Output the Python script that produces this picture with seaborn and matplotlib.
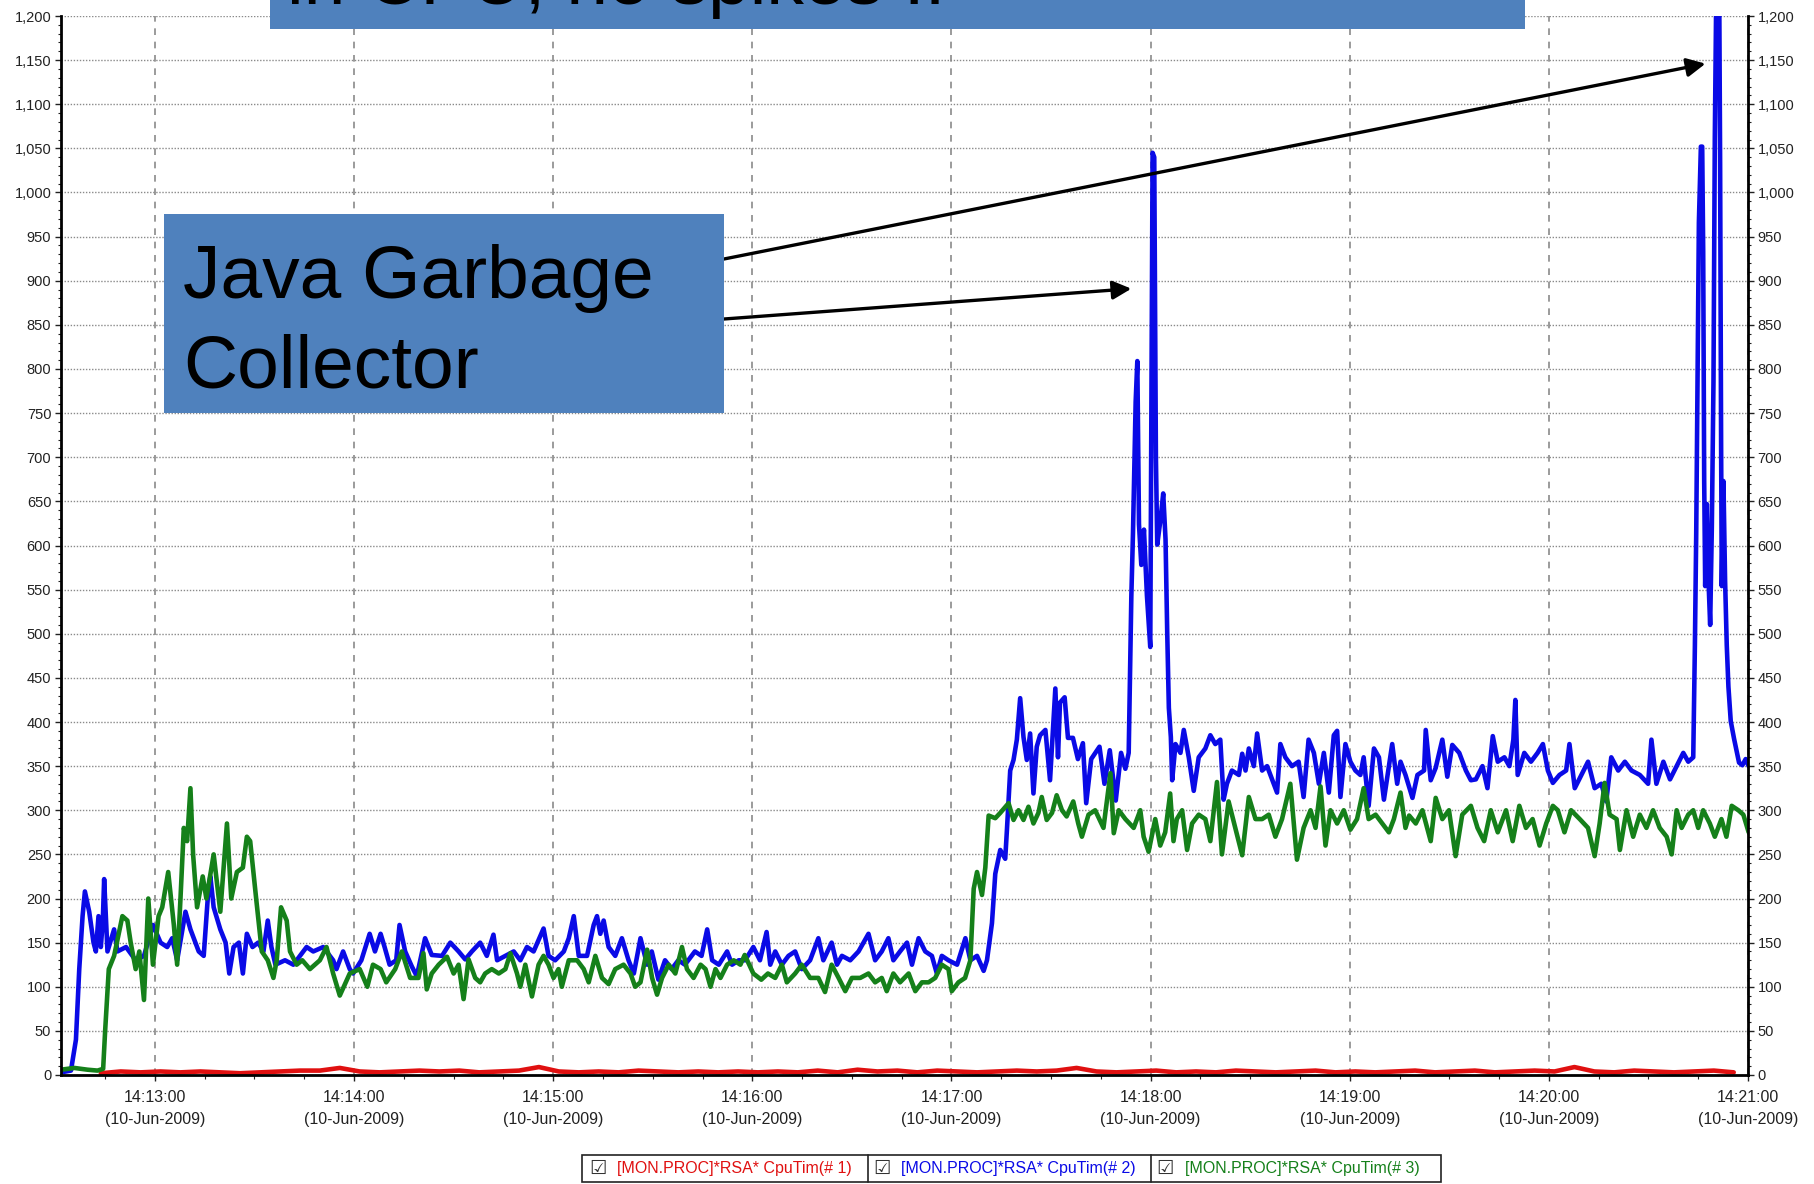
import pandas as pd
import matplotlib
matplotlib.use("Agg")
import matplotlib.pyplot as plt
import matplotlib.dates as mdates
from matplotlib.ticker import MultipleLocator, FuncFormatter
from matplotlib.patches import Rectangle
import seaborn as sns

# --- DATA (seconds after 14:12:31.7, CPU time) ---
START = "2009-06-10 14:12:31.7"
END = "2009-06-10 14:21:00"

blue_pts = [(0,3),(3,5),(4.5,40),(5.5,120),(6.5,180),(7.2,208),(8.5,185),(9.8,150),(10.5,140),(11.3,180),(12,145),(12.6,175),(13,222),(14,140),(16,165),(17,140),(19.6,145),(22.5,130),(25,135),(27.7,170),(30,150),(32,145),(33.5,155),(35,130),(37.5,185),(39,165),(41.5,140),(43,135),(44.4,210),(45,225),(46,190),(48,165),(49.6,150),(50.7,115),(52,145),(53.6,150),(54.8,115),(56,160),(57.7,145),(59.4,150),(61,140),(62.3,175),(63.4,145),(64.6,125),(67.5,130),(70,125),(74,145),(76,140),(79,145),(82,130),(83,120),(85,140),(87,120),(88,115),(90.5,130),(93,160),(94.6,140),(96.3,160),(97.5,145),(99,125),(101,130),(102,170),(103.7,140),(105.7,123),(107.2,112),(109.7,155),(111.7,136),(114.8,135),(117.3,150),(119.8,140),(121.8,131),(123.8,140),(126.3,150),(128.3,135),(130.3,159),(131.4,130),(133.9,135),(136.4,140),(138.4,130),(140.4,145),(142.4,140),(145.4,166),(146.9,135),(148.9,130),(151.5,140),(153,155),(154.5,180),(156,135),(158.5,135),(160.5,170),(161.5,180),(162.5,160),(163.5,175),(165,145),(167,135),(169,155),(171,130),(172.6,115),(174.6,155),(176.6,125),(178,140),(180,108),(182,130),(184,120),(186,130),(188,125),(191,140),(193,135),(194.7,165),(196.2,130),(198.2,125),(200.7,140),(202.2,125),(204.2,130),(206.1,130),(208.6,145),(210.6,130),(212.6,162),(213.7,125),(215.2,140),(217.2,125),(219.2,135),(221.2,140),(223.2,120),(225.7,130),(228.2,155),(229.7,130),(232.2,150),(233.8,125),(235.3,135),(237.8,130),(240.3,140),(243.3,160),(245.3,130),(247.3,140),(249.3,155),(250.8,130),(252.8,140),(254.9,150),(256.4,125),(258.4,155),(260.4,140),(262.4,135),(263.9,115),(265.4,135),(267.4,130),(270,125),(272.5,155),(274,130),(276,135),(278,118),(279,130),(280.5,172),(281.5,228),(283,255),(284.5,245),(285,277),(286,345),(287,357),(288,380),(289,427),(290,383),(291,357),(292,387),(293,319),(294,372),(295,385),(296.6,391),(298,334),(299.6,438),(300.4,360),(301,422),(302.4,428),(303.4,382),(304.9,382),(306.4,358),(307.9,376),(308.9,308),(310.4,358),(312.9,372),(314.4,330),(316,368),(317.8,311),(319.4,365),(320.7,347),(321.7,365),(322.5,543),(323,615),(323.8,763),(324.3,809),(324.8,624),(325.5,578),(326.3,618),(327.2,543),(328.2,485),(328.9,1045),(329.4,1040),(329.9,700),(330.3,601),(331.3,630),(332.1,659),(332.8,607),(333.3,503),(333.8,416),(334.4,383),(334.8,334),(335.8,375),(337.3,365),(338.3,391),(339.8,360),(341.3,322),(342.8,360),(344.8,370),(346.3,385),(347.8,375),(349.3,380),(350.3,312),(351.3,330),(352.8,345),(354.9,340),(355.9,364),(356.9,345),(357.9,370),(359.4,350),(360.4,387),(361.9,345),(363.4,350),(364.9,335),(366.4,320),(367.4,375),(368.9,360),(370.9,350),(372.9,355),(374.4,315),(375.9,380),(377.5,365),(379,330),(380.5,365),(382,320),(383.5,385),(384.5,390),(385.5,315),(387,375),(388.5,355),(390,345),(391.5,340),(392.5,360),(394,305),(395.6,370),(397.1,360),(398.6,312),(400.1,350),(401.1,375),(402.6,330),(403.6,355),(405.1,340),(407.2,314),(408.7,340),(410.7,345),(411.2,391),(412.7,334),(414.2,348),(416.2,380),(417.7,338),(419.2,374),(421.3,365),(423.3,345),(424.8,334),(426.3,335),(428.3,350),(429.8,325),(431.4,384),(432.9,355),(434.9,360),(436.4,350),(437.6,380),(438.2,425),(438.9,340),(440.9,365),(442.9,355),(444.9,365),(446.5,375),(448,345),(449.5,331),(451.5,340),(453.5,345),(454.5,375),(456.1,325),(458.1,340),(460.1,355),(462.1,325),(464.1,330),(465.6,310),(467.1,360),(469.2,345),(471.2,355),(473.2,345),(475.7,340),(478.2,330),(479.2,380),(480.7,330),(482.8,355),(484.8,335),(486.8,350),(488.8,365),(490.3,355),(491.8,360),(492.3,487),(492.7,614),(493.1,793),(493.5,966),(494.1,1052),(494.5,1052),(494.8,933),(495.1,673),(495.4,554),(495.9,647),(496.4,560),(496.9,510),(497.4,620),(497.9,786),(498.3,1062),(498.8,1250),(499.6,1250),(499.9,1032),(500.2,713),(500.4,554),(500.9,673),(501.4,560),(501.9,487),(502.4,440),(503.1,401),(504.1,381),(505.6,354),(506.6,351),(507.6,358),(508.5,350)]

green_pts = [(0,6),(4,8),(8,6),(11,5),(12.7,7),(13.3,50),(14.4,120),(16,135),(18.5,180),(20,175),(21,150),(22.5,120),(23.6,140),(25,85),(26.3,200),(27.7,125),(29.4,180),(30.5,190),(32.3,230),(34,170),(35,125),(36,200),(37,280),(38,265),(39,325),(39.8,250),(41,190),(42.7,225),(43.8,200),(46,250),(48,185),(50,285),(51.3,200),(53,230),(54.8,235),(56,270),(57,265),(58.8,200),(60.5,140),(62.3,130),(64,110),(65,130),(66.3,190),(68,175),(69,140),(71,125),(72.7,130),(75,120),(78,130),(80,145),(82,115),(84,90),(87,115),(90,120),(92.3,100),(94,125),(96.3,120),(98,105),(100.7,120),(102.7,140),(105.2,110),(107.7,110),(109.2,138),(110.2,97),(111.7,115),(113.8,125),(116.3,134),(118.3,115),(119.8,125),(121.3,86),(122.8,131),(124.8,110),(126.3,105),(127.8,115),(129.8,120),(131.9,115),(133.9,120),(135.4,138),(137.4,115),(138.4,100),(139.9,125),(141.9,89),(143.9,125),(145.4,135),(146.9,125),(148.4,110),(149.9,120),(150.9,100),(153,130),(155.5,130),(157.5,120),(159,105),(161,135),(163,110),(165,103),(167,120),(169.5,125),(171.6,115),(173,100),(174.6,105),(176.6,142),(178.1,110),(179.6,91),(181.1,110),(183.1,125),(185.1,115),(187.1,145),(188.6,120),(190.6,110),(192.7,125),(194.2,120),(195.7,100),(197.2,120),(198.7,110),(200.7,125),(202.7,130),(204.7,125),(206,136),(208.6,115),(211,108),(213,115),(215.2,110),(217.2,125),(218.7,105),(221.2,115),(223.2,125),(225.7,110),(228.2,110),(230.2,94),(232.2,125),(234.3,110),(236.3,95),(238.3,110),(240.8,110),(243.3,115),(245.3,105),(247.3,110),(248.8,95),(250.8,115),(252.8,105),(255.4,115),(257.4,95),(259.4,105),(261.4,105),(263.4,110),(265.4,125),(267.4,120),(268.4,95),(270.4,105),(272.4,110),(274,130),(275,211),(276,230),(277.5,204),(278.5,235),(279.5,294),(281.5,291),(283,297),(285.5,308),(287,289),(288.5,300),(290,289),(291.5,304),(293,285),(294.5,297),(295.5,315),(297,289),(298.6,297),(300,317),(301.6,300),(303,293),(305,310),(306.5,285),(307.6,270),(309.6,295),(311.6,300),(314.1,280),(316.2,342),(317.2,274),(318.7,300),(320.7,290),(323.2,280),(325.2,300),(326.2,270),(327.7,253),(329.7,290),(331.2,260),(332.7,275),(334.2,319),(335.2,265),(336.2,290),(337.8,300),(339.3,255),(340.8,285),(342.8,295),(344.8,290),(346.3,265),(348.3,332),(349.8,250),(351.8,310),(353.8,280),(355.9,249),(357.9,315),(359.9,290),(361.9,290),(363.9,295),(365.9,270),(367.9,290),(370.4,330),(372.4,244),(374.4,280),(376.5,300),(378,280),(379.5,327),(381,260),(382.5,300),(384.5,285),(386.5,300),(388.5,278),(390.5,290),(392.5,325),(394,290),(396.1,295),(398.1,285),(400.1,275),(401.6,290),(403.6,320),(405.1,280),(406.2,294),(408.2,285),(410.2,300),(412.7,265),(414.2,314),(416.2,290),(418.2,300),(420.2,248),(422.2,295),(424.8,305),(426.8,280),(428.8,265),(430.8,300),(432.9,275),(435.4,300),(437.4,265),(439.4,305),(441.4,280),(443.4,290),(445.5,260),(447.5,285),(449.5,305),(451,300),(453,275),(455,300),(457.6,290),(460.1,280),(462.1,248),(463.6,285),(465.1,331),(466.6,295),(468.7,290),(469.7,255),(471.7,300),(473.7,270),(475.7,295),(477.7,280),(479.7,300),(481.7,280),(483.8,270),(485.3,250),(486.8,300),(488.3,280),(490.3,295),(491.8,300),(493.3,280),(494.8,300),(496.8,285),(498.3,270),(500.3,290),(501.8,270),(503.4,305),(505.4,300),(506.9,295),(508.5,275)]

# red series sampled every 6 s from t=12
red_vals = [2,4,3,4,3,4,3,2,3,4,5,5,8,4,3,4,5,4,5,3,4,5,9,4,3,4,3,5,4,3,4,3,4,3,4,3,5,3,6,4,5,3,5,4,3,4,5,4,5,8,4,3,4,5,3,4,3,5,4,3,4,5,3,4,3,4,5,3,4,5,3,4,5,4,9,4,3,5,4,3,4,5,3]

series_names = ["[MON.PROC]*RSA* CpuTim(# 1)", "[MON.PROC]*RSA* CpuTim(# 2)", "[MON.PROC]*RSA* CpuTim(# 3)"]
series_colors = ["#E01010", "#0A0AE6", "#15801A"]

# --- BUILD LONG TABLE ---
base = pd.Timestamp(START)
red_t = [12 + 6 * i for i in range(len(red_vals))]
frames = []
for name, t, v in [
    (series_names[0], red_t, red_vals),
    (series_names[1], [p[0] for p in blue_pts], [p[1] for p in blue_pts]),
    (series_names[2], [p[0] for p in green_pts], [p[1] for p in green_pts]),
]:
    frames.append(pd.DataFrame({"time": base + pd.to_timedelta(t, unit="s"), "cpu": v, "series": name}))
df = pd.concat(frames, ignore_index=True)

# --- PLOT ---
sns.set_theme(style="white")
plt.rcParams["font.family"] = ["Liberation Sans Narrow", "Liberation Sans", "DejaVu Sans"]

W, H = 1814, 1184
fig = plt.figure(figsize=(W / 100, H / 100), dpi=100)
ax = fig.add_axes([61 / W, 1 - 1075 / H, (1748 - 61) / W, (1075 - 16) / H])

sns.lineplot(data=df, x="time", y="cpu", hue="series", hue_order=series_names,
             palette=series_colors, estimator=None, sort=False, lw=3.3,
             legend=False, ax=ax)

ax.set_xlim(base, pd.Timestamp(END))
ax.set_ylim(0, 1200)
ax.set_xlabel("")
ax.set_ylabel("")

ax.xaxis.set_major_locator(mdates.MinuteLocator())
ax.xaxis.set_minor_locator(mdates.SecondLocator(bysecond=[0, 15, 30, 45]))
ax.xaxis.set_major_formatter(mdates.DateFormatter("%H:%M:%S\n(%d-%b-%Y)"))
ax.yaxis.set_major_locator(MultipleLocator(50))
ax.yaxis.set_minor_locator(MultipleLocator(10))
ax.yaxis.set_major_formatter(FuncFormatter(lambda v, p: f"{v:,.0f}"))

ax.yaxis.grid(True, which="major", linestyle=(0, (1, 1.2)), color="#8a8a8a", lw=1.0)
ax.xaxis.grid(True, which="major", linestyle=(0, (4, 4)), color="#8a8a8a", lw=1.2)

ax.tick_params(axis="y", which="both", left=True, right=True, labelleft=True, labelright=True,
               direction="out", colors="#222222", labelsize=10.5, pad=3)
ax.tick_params(axis="y", which="major", length=4, width=1)
ax.tick_params(axis="y", which="minor", length=2.5, width=0.8)
ax.tick_params(axis="x", which="both", bottom=True, direction="out", colors="#222222")
ax.tick_params(axis="x", which="major", length=4, width=1, labelsize=11.5, pad=7)
ax.tick_params(axis="x", which="minor", length=3, width=0.8)
for lbl in ax.get_xticklabels():
    lbl.set_horizontalalignment("center")
    lbl.set_multialignment("center")
    lbl.set_linespacing(1.6)

for side in ["left", "right", "bottom"]:
    ax.spines[side].set_color("black")
    ax.spines[side].set_linewidth(2)
ax.spines["top"].set_visible(False)


def fx(px):
    return px / W


def fy(py):
    return 1 - py / H


# --- CALLOUTS ---
box_blue = "#4F81BD"
fig.add_artist(Rectangle((fx(270), fy(29)), (1525 - 270) / W, 29 / H, transform=fig.transFigure,
                         facecolor=box_blue, edgecolor="none", zorder=5))
# the callout text runs off the top edge of the slide in the original
fig.text(fx(287), fy(4), "in CPU, no spikes !!", fontsize=54, va="baseline",
         family="Liberation Sans", color="black", zorder=6)

fig.add_artist(Rectangle((fx(164), fy(413)), (724 - 164) / W, (413 - 214) / H, transform=fig.transFigure,
                         facecolor=box_blue, edgecolor="none", zorder=5))
fig.text(fx(183), fy(298), "Java Garbage", fontsize=54, va="baseline", family="Liberation Sans",
         color="black", zorder=6)
fig.text(fx(183), fy(388), "Collector", fontsize=54, va="baseline", family="Liberation Sans",
         color="black", zorder=6)

arrow_tips = [(495.5, 1146), (322.5, 891)]
arrow_tails = [(724, H - 259), (724, H - 319)]
for (ts, val), tail in zip(arrow_tips, arrow_tails):
    ax.annotate("", xy=(base + pd.Timedelta(seconds=ts), val), xycoords="data",
                xytext=tail, textcoords="figure pixels", annotation_clip=False,
                arrowprops=dict(arrowstyle="-|>", color="black", lw=2.4,
                                mutation_scale=28, shrinkA=0, shrinkB=0))

# --- LEGEND STRIP ---
fig.add_artist(Rectangle((fx(582), fy(1182)), (1441 - 582) / W, (1182 - 1155) / H, transform=fig.transFigure,
                         facecolor="white", edgecolor="#222222", lw=1.2, zorder=5))
cells = [(582, 589, 617), (868, 873, 901), (1151, 1156, 1185)]
for (edge, box_x, txt_x), name, col in zip(cells, series_names, series_colors):
    if edge != 582:
        fig.add_artist(plt.Line2D([fx(edge), fx(edge)], [fy(1182), fy(1155)], transform=fig.transFigure,
                                  color="#222222", lw=1.2, zorder=6))
    fig.text(fx(box_x), fy(1168.5), "\u2611", fontsize=14, va="center", family=["DejaVu Sans"],
             color="#333333", zorder=6)
    fig.text(fx(txt_x), fy(1168.5), name, fontsize=11.5, va="center", color=col, zorder=6)

fig.savefig("out.png", dpi=100)
